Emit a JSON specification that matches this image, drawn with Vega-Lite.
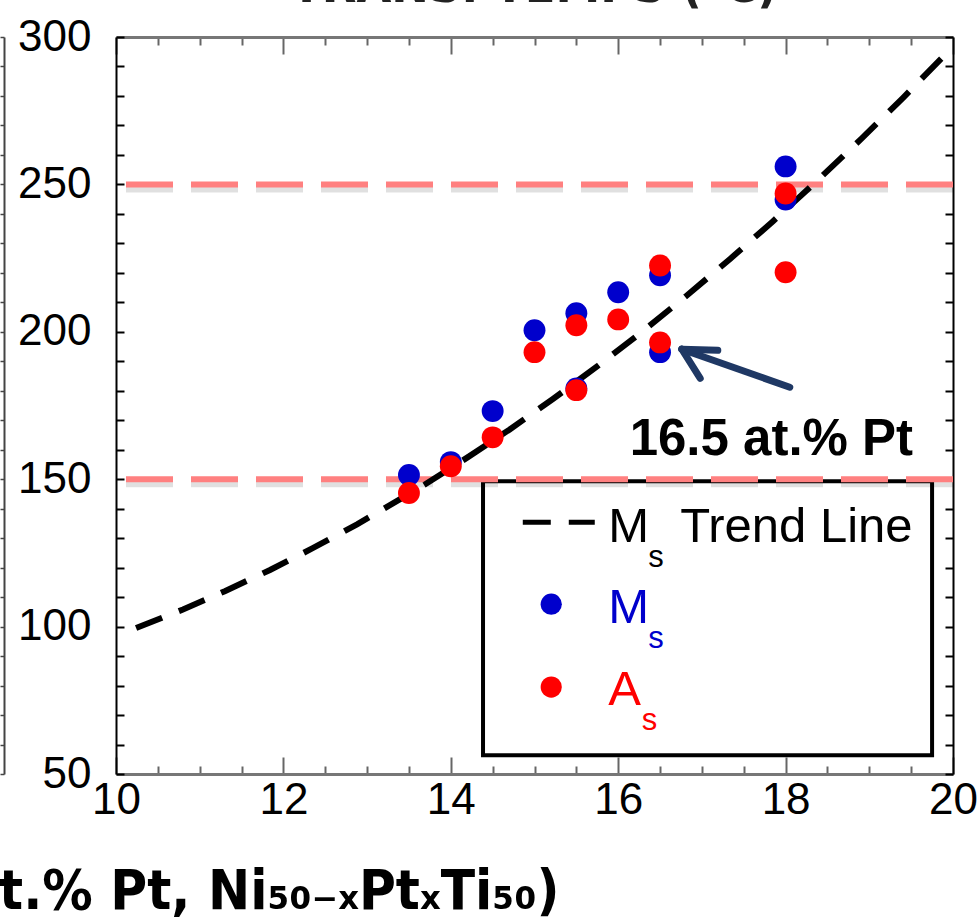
{
  "$schema": "https://vega.github.io/schema/vega-lite/v6.json",
  "width": 837,
  "height": 737,
  "autosize": {"type": "none"},
  "padding": {"left": 116, "top": 37, "right": 27, "bottom": 148},
  "background": "white",
  "title": {"text": "TRANS. TEMPS (°C)", "font": "DejaVu Sans Condensed", "fontWeight": "bold", "fontSize": 50, "color": "#222222", "anchor": "middle", "offset": 3},
  "config": {"view": {"stroke": null}, "font": "Liberation Sans", "axis": {"grid": false}},
  "datasets": {
    "pts": [
      {"pt": 13.5, "temp": 151.4, "type": "Ms"},
      {"pt": 14.0, "temp": 155.8, "type": "Ms"},
      {"pt": 14.5, "temp": 173.1, "type": "Ms"},
      {"pt": 15.0, "temp": 200.5, "type": "Ms"},
      {"pt": 15.5, "temp": 206.3, "type": "Ms"},
      {"pt": 15.5, "temp": 180.8, "type": "Ms"},
      {"pt": 16.0, "temp": 213.4, "type": "Ms"},
      {"pt": 16.5, "temp": 219.2, "type": "Ms"},
      {"pt": 16.5, "temp": 193.1, "type": "Ms"},
      {"pt": 18.0, "temp": 256.1, "type": "Ms"},
      {"pt": 18.0, "temp": 244.9, "type": "Ms"},
      {"pt": 13.5, "temp": 145.3, "type": "As"},
      {"pt": 14.0, "temp": 154.4, "type": "As"},
      {"pt": 14.5, "temp": 164.2, "type": "As"},
      {"pt": 15.0, "temp": 193.1, "type": "As"},
      {"pt": 15.5, "temp": 202.2, "type": "As"},
      {"pt": 15.5, "temp": 180.2, "type": "As"},
      {"pt": 16.0, "temp": 204.2, "type": "As"},
      {"pt": 16.5, "temp": 222.5, "type": "As"},
      {"pt": 16.5, "temp": 196.4, "type": "As"},
      {"pt": 18.0, "temp": 246.9, "type": "As"},
      {"pt": 18.0, "temp": 220.2, "type": "As"}
    ],
    "trend": [
      {"pt": 10.24, "temp": 99.5},
      {"pt": 10.8, "temp": 105.8},
      {"pt": 11.3, "temp": 112.0},
      {"pt": 11.84, "temp": 119.2},
      {"pt": 12.35, "temp": 126.6},
      {"pt": 12.88, "temp": 134.7},
      {"pt": 13.4, "temp": 143.3},
      {"pt": 13.69, "temp": 148.2},
      {"pt": 14.2, "temp": 157.4},
      {"pt": 14.7, "temp": 166.8},
      {"pt": 15.22, "temp": 177.2},
      {"pt": 15.76, "temp": 188.5},
      {"pt": 16.28, "temp": 199.9},
      {"pt": 16.82, "temp": 212.3},
      {"pt": 17.34, "temp": 224.8},
      {"pt": 17.85, "temp": 237.5},
      {"pt": 18.39, "temp": 251.6},
      {"pt": 18.91, "temp": 265.6},
      {"pt": 19.4, "temp": 279.3},
      {"pt": 19.93, "temp": 294.7}
    ],
    "hlines": [{"temp": 150}, {"temp": 250}],
    "one": [{}]
  },
  "resolve": {"axis": {"x": "independent", "y": "independent"}},
  "layer": [
    {
      "data": {"name": "one"},
      "mark": {"type": "rect", "fill": "white", "stroke": "black", "strokeWidth": 4},
      "encoding": {
        "x": {"datum": 14.385, "type": "quantitative", "scale": {"domain": [10, 20], "nice": false, "zero": false}, "axis": null},
        "x2": {"datum": 19.75},
        "y": {"datum": 149.3, "type": "quantitative", "scale": {"domain": [50, 300], "nice": false, "zero": false}, "axis": null},
        "y2": {"datum": 56.4}
      }
    },
    {
      "data": {"name": "hlines"},
      "mark": {"type": "rule", "color": "black", "opacity": 0.12, "strokeWidth": 6, "strokeDash": [47, 18], "yOffset": 5},
      "encoding": {"y": {"field": "temp", "type": "quantitative", "axis": null}}
    },
    {
      "data": {"name": "hlines"},
      "mark": {"type": "rule", "color": "#FF8080", "strokeWidth": 6, "strokeDash": [47, 18]},
      "encoding": {"y": {"field": "temp", "type": "quantitative", "axis": null}}
    },
    {
      "data": {"name": "trend"},
      "mark": {"type": "line", "color": "black", "strokeWidth": 6, "strokeDash": [28, 18]},
      "encoding": {
        "x": {"field": "pt", "type": "quantitative", "axis": {
          "orient": "bottom",
          "values": [10, 10.5, 11, 11.5, 12, 12.5, 13, 13.5, 14, 14.5, 15, 15.5, 16, 16.5, 17, 17.5, 18, 18.5, 19, 19.5, 20],
          "labelExpr": "datum.value % 2 === 0 ? format(datum.value, 'd') : ''",
          "tickSize": {"condition": {"test": "datum.value % 2 === 0", "value": -17}, "value": -8},
          "tickWidth": 2, "tickColor": "#666666",
          "domainColor": "#777777", "domainWidth": 3,
          "labelFontSize": 44, "labelColor": "black", "labelPadding": 21,
          "labelFlush": false, "labelOverlap": false, "labelBound": false,
          "title": "Composition (at.% Pt, Ni₅₀₋ₓPtₓTi₅₀)",
          "titleFont": "DejaVu Sans Condensed", "titleFontWeight": "bold", "titleFontSize": 56, "titleColor": "black",
          "titleAlign": "right", "titleAnchor": "end", "titleX": 443, "titleY": 134, "titleBaseline": "alphabetic"
        }},
        "y": {"field": "temp", "type": "quantitative", "axis": {
          "orient": "left",
          "values": [50, 60, 70, 80, 90, 100, 110, 120, 130, 140, 150, 160, 170, 180, 190, 200, 210, 220, 230, 240, 250, 260, 270, 280, 290, 300],
          "labelExpr": "datum.value % 50 === 0 ? datum.label : ''",
          "tickSize": -8, "tickWidth": 2, "tickColor": "black",
          "domainColor": "black", "domainWidth": 2,
          "labelFontSize": 44, "labelColor": "black", "labelPadding": 33,
          "labelFlush": false, "labelOverlap": false, "labelBound": false,
          "title": null
        }}
      }
    },
    {
      "data": {"name": "pts"},
      "mark": {"type": "circle", "size": 480, "opacity": 1},
      "encoding": {
        "x": {"field": "pt", "type": "quantitative", "axis": {
          "orient": "top",
          "values": [10, 10.5, 11, 11.5, 12, 12.5, 13, 13.5, 14, 14.5, 15, 15.5, 16, 16.5, 17, 17.5, 18, 18.5, 19, 19.5, 20],
          "labels": false,
          "tickSize": {"condition": {"test": "datum.value % 2 === 0", "value": -17}, "value": -8},
          "tickWidth": 2, "tickColor": "#666666",
          "domainColor": "#777777", "domainWidth": 3, "title": null
        }},
        "y": {"field": "temp", "type": "quantitative", "axis": {
          "orient": "right",
          "values": [50, 60, 70, 80, 90, 100, 110, 120, 130, 140, 150, 160, 170, 180, 190, 200, 210, 220, 230, 240, 250, 260, 270, 280, 290, 300],
          "labels": false, "tickSize": -8, "tickWidth": 2, "tickColor": "black",
          "domainColor": "black", "domainWidth": 2, "title": null
        }},
        "color": {"field": "type", "type": "nominal", "scale": {"domain": ["Ms", "As"], "range": ["#0000CC", "#FF0000"]}, "legend": null}
      }
    },
    {
      "data": {"name": "pts"},
      "mark": {"type": "circle", "opacity": 0},
      "encoding": {
        "x": {"field": "pt", "type": "quantitative", "axis": null},
        "y": {"field": "temp", "type": "quantitative", "axis": {
          "orient": "left", "offset": 112,
          "values": [50, 60, 70, 80, 90, 100, 110, 120, 130, 140, 150, 160, 170, 180, 190, 200, 210, 220, 230, 240, 250, 260, 270, 280, 290, 300],
          "labels": false, "tickSize": 4, "tickWidth": 1.5, "tickColor": "#444444",
          "domainColor": "#444444", "domainWidth": 2, "title": null
        }}
      }
    },
    {
      "data": {"name": "one"},
      "mark": {"type": "rule", "color": "#1F3864", "strokeWidth": 7, "strokeCap": "round"},
      "encoding": {
        "x": {"datum": 16.76, "type": "quantitative", "axis": null}, "y": {"datum": 194.1, "type": "quantitative", "axis": null},
        "x2": {"datum": 18.05}, "y2": {"datum": 181.2}
      }
    },
    {
      "data": {"name": "one"},
      "mark": {"type": "rule", "color": "#1F3864", "strokeWidth": 7, "strokeCap": "round"},
      "encoding": {
        "x": {"datum": 16.76, "type": "quantitative", "axis": null}, "y": {"datum": 194.1, "type": "quantitative", "axis": null},
        "x2": {"datum": 17.19}, "y2": {"datum": 193.7}
      }
    },
    {
      "data": {"name": "one"},
      "mark": {"type": "rule", "color": "#1F3864", "strokeWidth": 7, "strokeCap": "round"},
      "encoding": {
        "x": {"datum": 16.76, "type": "quantitative", "axis": null}, "y": {"datum": 194.1, "type": "quantitative", "axis": null},
        "x2": {"datum": 16.98}, "y2": {"datum": 184.2}
      }
    },
    {
      "data": {"name": "one"},
      "mark": {"type": "text", "text": "16.5 at.% Pt", "font": "Liberation Sans", "fontWeight": "bold", "fontSize": 51, "color": "black", "align": "center", "baseline": "alphabetic"},
      "encoding": {
        "x": {"datum": 17.83, "type": "quantitative", "axis": null}, "y": {"datum": 158.1, "type": "quantitative", "axis": null}
      }
    },
    {
      "data": {"name": "one"},
      "mark": {"type": "rule", "color": "black", "strokeWidth": 5, "strokeDash": [28, 18]},
      "encoding": {
        "x": {"datum": 14.86, "type": "quantitative", "axis": null}, "y": {"datum": 135.4, "type": "quantitative", "axis": null},
        "x2": {"datum": 15.72}, "y2": {"datum": 135.4}
      }
    },
    {
      "data": {"name": "one"},
      "mark": {"type": "circle", "size": 450, "opacity": 1, "color": "#0000CC"},
      "encoding": {
        "x": {"datum": 15.2, "type": "quantitative", "axis": null}, "y": {"datum": 107.6, "type": "quantitative", "axis": null}
      }
    },
    {
      "data": {"name": "one"},
      "mark": {"type": "circle", "size": 450, "opacity": 1, "color": "#FF0000"},
      "encoding": {
        "x": {"datum": 15.2, "type": "quantitative", "axis": null}, "y": {"datum": 79.5, "type": "quantitative", "axis": null}
      }
    },
    {
      "data": {"name": "one"},
      "mark": {"type": "text", "text": "M", "fontSize": 49, "color": "black", "align": "left", "baseline": "alphabetic"},
      "encoding": {"x": {"datum": 15.88, "type": "quantitative", "axis": null}, "y": {"datum": 128.6, "type": "quantitative", "axis": null}}
    },
    {
      "data": {"name": "one"},
      "mark": {"type": "text", "text": "s", "fontSize": 31, "color": "black", "align": "left", "baseline": "alphabetic"},
      "encoding": {"x": {"datum": 16.36, "type": "quantitative", "axis": null}, "y": {"datum": 120.2, "type": "quantitative", "axis": null}}
    },
    {
      "data": {"name": "one"},
      "mark": {"type": "text", "text": "Trend Line", "fontSize": 49, "color": "black", "align": "left", "baseline": "alphabetic"},
      "encoding": {"x": {"datum": 16.74, "type": "quantitative", "axis": null}, "y": {"datum": 128.6, "type": "quantitative", "axis": null}}
    },
    {
      "data": {"name": "one"},
      "mark": {"type": "text", "text": "M", "fontSize": 49, "color": "#0000CC", "align": "left", "baseline": "alphabetic"},
      "encoding": {"x": {"datum": 15.88, "type": "quantitative", "axis": null}, "y": {"datum": 101.2, "type": "quantitative", "axis": null}}
    },
    {
      "data": {"name": "one"},
      "mark": {"type": "text", "text": "s", "fontSize": 31, "color": "#0000CC", "align": "left", "baseline": "alphabetic"},
      "encoding": {"x": {"datum": 16.36, "type": "quantitative", "axis": null}, "y": {"datum": 92.7, "type": "quantitative", "axis": null}}
    },
    {
      "data": {"name": "one"},
      "mark": {"type": "text", "text": "A", "fontSize": 49, "color": "#FF0000", "align": "left", "baseline": "alphabetic"},
      "encoding": {"x": {"datum": 15.88, "type": "quantitative", "axis": null}, "y": {"datum": 73.4, "type": "quantitative", "axis": null}}
    },
    {
      "data": {"name": "one"},
      "mark": {"type": "text", "text": "s", "fontSize": 31, "color": "#FF0000", "align": "left", "baseline": "alphabetic"},
      "encoding": {"x": {"datum": 16.28, "type": "quantitative", "axis": null}, "y": {"datum": 64.9, "type": "quantitative", "axis": null}}
    }
  ]
}
